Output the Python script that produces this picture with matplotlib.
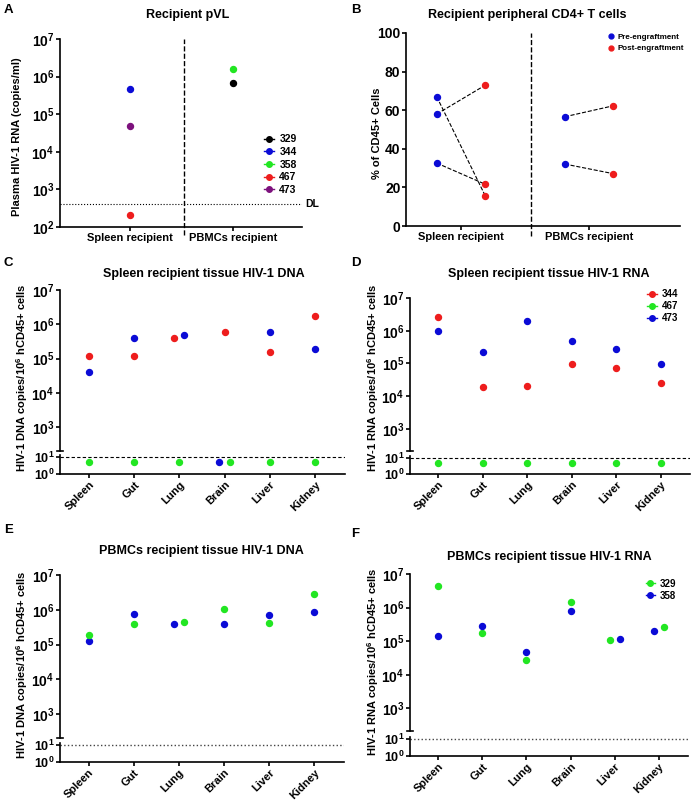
import numpy as np
import matplotlib
matplotlib.use("Agg")
import matplotlib.pyplot as plt
from matplotlib.lines import Line2D
from matplotlib.transforms import blended_transform_factory

plt.rcParams['font.family'] = 'Liberation Sans'
plt.rcParams['font.weight'] = 'bold'
plt.rcParams['mathtext.fontset'] = 'custom'
plt.rcParams['mathtext.rm'] = 'Liberation Sans:bold'
plt.rcParams['mathtext.bf'] = 'Liberation Sans:bold'

W, H = 694, 800

BLUE = '#0b0bd6'
RED = '#ee1d1d'
GREEN = '#22e622'
BLACK = '#000000'
PURPLE = '#7d117d'

# ---- data -------------------------------------------------------------
# A: plasma viral load
pvl_groups = ["Spleen recipient", "PBMCs recipient"]
pvl_mice = ["329", "344", "358", "467", "473"]
pvl_group_of = [1, 0, 1, 0, 0]
pvl_values = [6.8e5, 4.8e5, 1.55e6, 210, 4.8e4]
pvl_colors = [BLACK, BLUE, GREEN, RED, PURPLE]
pvl_dl = 400

# B: peripheral CD4+ T cells (pre / post engraftment pairs)
cd4_groups = ["Spleen recipient", "PBMCs recipient"]
cd4_pre_spleen = [58, 67, 32.6]
cd4_post_spleen = [73, 15.5, 21.6]
cd4_pre_pbmc = [56.6, 32.1]
cd4_post_pbmc = [62.3, 27.1]

tissues = ["Spleen", "Gut", "Lung", "Brain", "Liver", "Kidney"]

# C: spleen recipient tissue DNA
c_344 = [1.17e5, 1.2e5, 4.0e5, 6.0e5, 1.56e5, 1.8e6]
c_467 = [5, 5, 5, 5, 5, 5]
c_473 = [4.1e4, 4.1e5, 4.8e5, 5, 6.0e5, 1.96e5]

# D: spleen recipient tissue RNA
d_344 = [2.7e6, 1.9e4, 2.1e4, 9.6e4, 7.2e4, 2.5e4]
d_467 = [5, 5, 5, 5, 5, 5]
d_473 = [1.0e6, 2.3e5, 2.0e6, 4.8e5, 2.7e5, 9.3e4]

# E: PBMCs recipient tissue DNA
e_329 = [1.9e5, 3.8e5, 4.6e5, 1.05e6, 4.1e5, 2.9e6]
e_358 = [1.24e5, 7.5e5, 4.0e5, 3.9e5, 7.2e5, 8.5e5]

# F: PBMCs recipient tissue RNA
f_329 = [4.3e6, 1.8e5, 2.8e4, 1.5e6, 1.05e5, 2.6e5]
f_358 = [1.4e5, 2.9e5, 4.9e4, 7.9e5, 1.2e5, 2.0e5]

# horizontal nudges for overlapping points (display only)
c_shift_344 = [0, 0, -0.11, 0, 0, 0]
c_shift_467 = [0, 0, 0, 0.12, 0, 0]
c_shift_473 = [0, 0, 0.11, -0.12, 0, 0]
e_shift_329 = [0, 0, 0.11, 0, 0, 0]
e_shift_358 = [0, 0, -0.12, 0, 0, 0]
f_shift_329 = [0, 0, 0, 0, -0.1, 0.11]
f_shift_358 = [0, 0, 0, 0, 0.11, -0.1]


def px_axes(fig, left, top, right, bottom):
    return fig.add_axes([left / W, 1 - bottom / H, (right - left) / W, (bottom - top) / H])


def sup(e):
    return r'$\mathbf{10^{%d}}$' % e


def style(ax):
    for s in ['top', 'right']:
        ax.spines[s].set_visible(False)
    for s in ['left', 'bottom']:
        ax.spines[s].set_linewidth(1.2)
    ax.tick_params(width=1.2, length=3, labelsize=10, pad=1)
    ax.minorticks_off()


fig = plt.figure(figsize=(W / 100, H / 100), dpi=100)


def ftext(x, y, s, **kw):
    fig.text(x / W, 1 - y / H, s, **kw)


# ---- A ----------------------------------------------------------------
ax = px_axes(fig, 60, 39, 302, 227)
style(ax)
ax.set_yscale('log')
ax.set_ylim(1e2, 1e7)
ax.set_xlim(-0.68, 1.67)
ax.set_yticks([10 ** k for k in range(2, 8)])
ax.set_yticklabels([sup(k) for k in range(2, 8)])
ax.minorticks_off()
ax.set_xticks([0, 1])
ax.set_xticklabels(pvl_groups, fontsize=8)
for g, v, c in zip(pvl_group_of, pvl_values, pvl_colors):
    ax.plot(g, v, 'o', color=c, ms=4.3)
ax.axvline(0.52, ymin=-0.04, ymax=1, ls='--', color='k', lw=1, clip_on=False)
ax.axhline(pvl_dl, ls=':', color='k', lw=0.8)
ax.text(1.015, pvl_dl, 'DL', transform=blended_transform_factory(ax.transAxes, ax.transData),
        va='center', fontsize=7.5)
handles = [Line2D([], [], color=c, marker='o', ms=4, lw=1) for c in pvl_colors]
ax.legend(handles, pvl_mice, loc='upper left', bbox_to_anchor=(0.82, 0.52), frameon=False,
          fontsize=7.5, handlelength=1.0, handletextpad=0.5, labelspacing=0.25, borderpad=0)
ftext(17, 137, 'Plasma HIV-1 RNA (copies/ml)', rotation=90, ha='center', va='center', fontsize=8)
ftext(188, 15, 'Recipient pVL', ha='center', va='center', fontsize=9)
ftext(4, 13, 'A', fontsize=9.5)

# ---- B ----------------------------------------------------------------
ax = px_axes(fig, 406, 33, 680, 226)
style(ax)
ax.set_ylim(0, 100)
ax.set_yticks(range(0, 101, 20))
ax.set_xlim(-0.43, 1.71)
ax.set_xticks([0, 1])
ax.set_xticklabels(cd4_groups, fontsize=8)
d = 0.19
for center, pre, post in [(0, cd4_pre_spleen, cd4_post_spleen), (1, cd4_pre_pbmc, cd4_post_pbmc)]:
    for a, b in zip(pre, post):
        ax.plot([center - d, center + d], [a, b], ls='--', color='k', lw=0.8, zorder=1)
    ax.plot([center - d] * len(pre), pre, 'o', color=BLUE, ms=4.3, zorder=3)
    ax.plot([center + d] * len(post), post, 'o', color=RED, ms=4.3, zorder=3)
ax.axvline(0.55, ymin=-0.05, ymax=1, ls='--', color='k', lw=1, clip_on=False)
handles = [Line2D([], [], color=BLUE, marker='o', ms=3.5, lw=0),
           Line2D([], [], color=RED, marker='o', ms=3.5, lw=0)]
ax.legend(handles, ['Pre-engraftment', 'Post-engraftment'], loc='upper left',
          bbox_to_anchor=(0.72, 1.02), frameon=False, fontsize=5.8, handlelength=0.8,
          handletextpad=0.5, labelspacing=0.5, borderpad=0)
ftext(377, 133, '% of CD45+ Cells', rotation=90, ha='center', va='center', fontsize=8)
ftext(527, 15, 'Recipient peripheral CD4+ T cells', ha='center', va='center', fontsize=9)
ftext(351, 13, 'B', fontsize=9.5)


# ---- C-F: broken log axes ---------------------------------------------
def broken(left, right, top, bottom, dec, dash):
    up_bot = top + 4.68 * dec
    lo_top = bottom - 1.12 * dec / 2
    up = px_axes(fig, left, top, right, up_bot)
    lo = px_axes(fig, left, lo_top, right, bottom)
    for a in (up, lo):
        style(a)
        a.set_yscale('log')
        a.set_xlim(-0.64, 5.66)
    up.set_ylim(10 ** 2.32, 1e7)
    up.set_yticks([10 ** k for k in range(3, 8)])
    up.set_yticklabels([sup(k) for k in range(3, 8)])
    up.spines['bottom'].set_visible(False)
    up.set_xticks([])
    up.plot([-0.012, 0.012], [0, 0], transform=up.transAxes, color='k', lw=1.2, clip_on=False)
    lo.set_ylim(1, 10 ** 1.12)
    lo.set_yticks([1, 10])
    lo.set_yticklabels([sup(0), sup(1)])
    lo.tick_params(axis='y', labelsize=9)
    lo.minorticks_off()
    up.minorticks_off()
    lo.set_xticks(range(len(tissues)))
    lo.set_xticklabels(tissues, rotation=45, ha='right', rotation_mode='anchor', fontsize=8)
    if dash:
        lo.axhline(10, ls='--', color='k', lw=0.8, dashes=(3, 2))
    else:
        lo.axhline(10, ls=':', color='#444444', lw=1.0)
    return up, lo


def dots(axes, vals, shift, color):
    x = np.arange(len(vals)) + np.array(shift)
    for a in axes:
        a.plot(x, vals, 'o', color=color, ms=4.3, clip_on=True)


def series_legend(ax, labels, colors, anchor):
    handles = [Line2D([], [], color=c, marker='o', ms=4, lw=1) for c in colors]
    ax.legend(handles, labels, loc='upper left', bbox_to_anchor=anchor, frameon=False,
              fontsize=7, handlelength=1.0, handletextpad=0.5, labelspacing=0.2, borderpad=0)


# C
axes = broken(60, 345, 290, 474, 34.3, True)
dots(axes, c_344, c_shift_344, RED)
dots(axes, c_473, c_shift_473, BLUE)
dots(axes, c_467, c_shift_467, GREEN)
ftext(22, 378, 'HIV-1 DNA copies/10$^6$ hCD45+ cells', rotation=90, ha='center', va='center', fontsize=8)
ftext(204, 274, 'Spleen recipient tissue HIV-1 DNA', ha='center', va='center', fontsize=9)
ftext(4, 266, 'C', fontsize=9.5)

# D
axes = broken(410, 690, 298, 474, 32.7, True)
dots(axes, d_344, [0] * 6, RED)
dots(axes, d_473, [0] * 6, BLUE)
dots(axes, d_467, [0] * 6, GREEN)
series_legend(axes[0], ['344', '467', '473'], [RED, GREEN, BLUE], (0.83, 1.09))
ftext(373, 378, 'HIV-1 RNA copies/10$^6$ hCD45+ cells', rotation=90, ha='center', va='center', fontsize=8)
ftext(549, 274, 'Spleen recipient tissue HIV-1 RNA', ha='center', va='center', fontsize=9)
ftext(351, 266, 'D', fontsize=9.5)

# E
axes = broken(60, 344, 575, 762, 34.8, False)
dots(axes, e_358, e_shift_358, BLUE)
dots(axes, e_329, e_shift_329, GREEN)
ftext(22, 665, 'HIV-1 DNA copies/10$^6$ hCD45+ cells', rotation=90, ha='center', va='center', fontsize=8)
ftext(201, 551, 'PBMCs recipient tissue HIV-1 DNA', ha='center', va='center', fontsize=9)
ftext(4, 533, 'E', fontsize=9.5)

# F
axes = broken(410, 688, 574, 756, 33.6, False)
dots(axes, f_329, f_shift_329, GREEN)
dots(axes, f_358, f_shift_358, BLUE)
series_legend(axes[0], ['329', '358'], [GREEN, BLUE], (0.83, 1.0))
ftext(373, 662, 'HIV-1 RNA copies/10$^6$ hCD45+ cells', rotation=90, ha='center', va='center', fontsize=8)
ftext(549, 557, 'PBMCs recipient tissue HIV-1 RNA', ha='center', va='center', fontsize=9)
ftext(351, 537, 'F', fontsize=9.5)

fig.savefig('out.png', dpi=100)
